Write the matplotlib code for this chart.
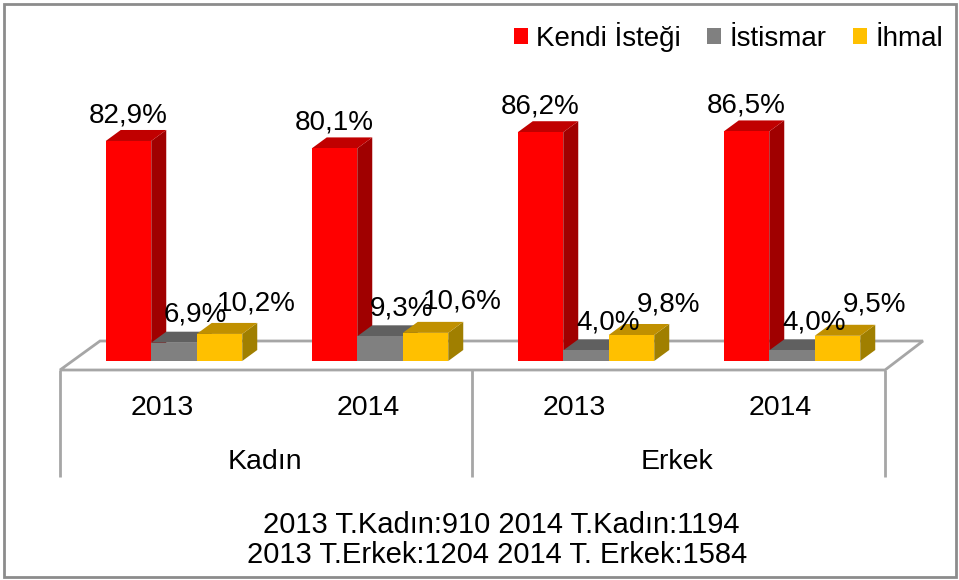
import matplotlib
matplotlib.use("Agg")
import matplotlib.pyplot as plt
from matplotlib.patches import Polygon, Patch, Rectangle
import numpy as np

plt.rcParams['font.family'] = ['Liberation Sans', 'DejaVu Sans']

# ---- data ----
years = ["2013", "2014", "2013", "2014"]
groups = ["Kadın", "Erkek"]
series_names = ["Kendi İsteği", "İstismar", "İhmal"]
kendi = [82.9, 80.1, 86.2, 86.5]
istismar = [6.9, 9.3, 4.0, 4.0]
ihmal = [10.2, 10.6, 9.8, 9.5]
footer = ["2013 T.Kadın:910 2014 T.Kadın:1194",
          "2013 T.Erkek:1204 2014 T. Erkek:1584"]

front_cols = ["#FF0000", "#808080", "#FFC000"]
top_cols = ["#C00000", "#606060", "#C09000"]
side_cols = ["#A00000", "#505050", "#A07F00"]

W, H = 959, 580
fig = plt.figure(figsize=(W / 100, H / 100), dpi=100)
ax = fig.add_axes([0, 0, 1, 1])
SX = 206.0          # px per category
SY = 2.654          # px per percent
X0PX, Y0PX = 174, 361
ax.set_xlim(-X0PX / SX, (W - X0PX) / SX)
ax.set_ylim(-(H - Y0PX) / SY, Y0PX / SY)
ax.axis('off')

def px(xp, yp):
    return ((xp - X0PX) / SX, (Y0PX - yp) / SY)

x = np.arange(len(years))
bw = 45.5 / SX
ddx = 15 / SX
ddy = 11 / SY

# floor
fl = [px(60, 370), px(885, 370), px(923, 341), px(100, 341)]
ax.add_patch(Polygon(fl, closed=True, facecolor='white', edgecolor='#A6A6A6', lw=2, zorder=1))

# category table lines
for xp in (60, 472, 885):
    a = px(xp, 370); b = px(xp, 477)
    ax.plot([a[0], b[0]], [a[1], b[1]], color='#A6A6A6', lw=2, zorder=1, solid_capstyle='butt')

shift = -12 / SX
for i, yl in enumerate(years):
    ax.text(x[i] + shift, px(0, 415)[1], yl, ha='center', va='baseline', fontsize=20.5)
for g, name in enumerate(groups):
    ax.text(x[2 * g] + 0.5 + shift, px(0, 469)[1], name, ha='center', va='baseline', fontsize=20.5)

# bars
all_vals = [kendi, istismar, ihmal]
offsets = [-bw, 0, bw]
lab_dx = [0.0, 0.105, 0.18]
lab_dy = [7.0, 7.8, 9.0]
z = 2
for gi in range(len(years)):
    for s in range(3):
        v = all_vals[s][gi]
        bars = ax.bar(x[gi] + offsets[s], v, width=bw, color=front_cols[s], lw=0, zorder=z + 2)
        r = bars[0]
        x0, x1, h = r.get_x(), r.get_x() + r.get_width(), r.get_height()
        top = Polygon([(x0, h), (x1, h), (x1 + ddx, h + ddy), (x0 + ddx, h + ddy)],
                      closed=True, facecolor=top_cols[s], lw=0, zorder=z + 1)
        side = Polygon([(x1, 0), (x1 + ddx, ddy), (x1 + ddx, h + ddy), (x1, h)],
                       closed=True, facecolor=side_cols[s], lw=0, zorder=z)
        ax.add_patch(top); ax.add_patch(side)
        z += 3
        ax.text((x0 + x1) / 2 + lab_dx[s], h + lab_dy[s], f"{v:.1f}%".replace('.', ','),
                ha='center', va='baseline', fontsize=20, zorder=100)

# legend
handles = [Patch(facecolor=c, edgecolor='none') for c in front_cols]
leg = ax.legend(handles, series_names, loc='upper right', bbox_to_anchor=(943 / W, 1 - 22 / H),
                ncol=3, frameon=False, fontsize=20, handlelength=0.5, handleheight=0.5,
                handletextpad=0.3, columnspacing=0.95, borderaxespad=0, borderpad=0)

# footer
fig.text(501 / W, 1 - 533 / H, footer[0], ha='center', va='baseline', fontsize=21)
fig.text(497 / W, 1 - 563 / H, footer[1], ha='center', va='baseline', fontsize=21)

# outer border
fig.add_artist(Rectangle((4 / W, 3 / H), 952 / W, 573 / H, transform=fig.transFigure,
                         fill=False, edgecolor='#8C8C8C', lw=2))

fig.savefig("out.png", dpi=100)
